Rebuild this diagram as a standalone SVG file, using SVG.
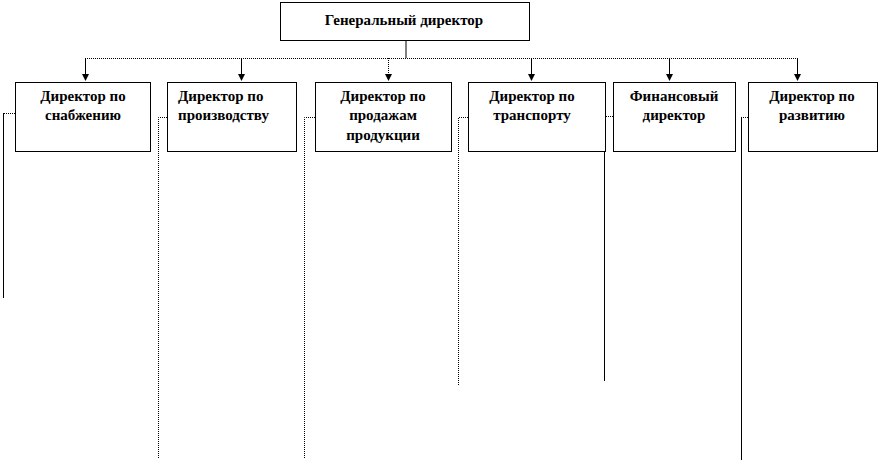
<svg xmlns="http://www.w3.org/2000/svg" width="880" height="460" viewBox="0 0 880 460">
<defs>
<marker id="ah" markerWidth="7" markerHeight="7" refX="6" refY="3.5" orient="auto" markerUnits="userSpaceOnUse">
<path d="M0,0 L7,3.5 L0,7 z" fill="#000"/>
</marker>
<style>
.box{fill:#fff;stroke:#000;stroke-width:1}
.t{font-family:"Liberation Serif","Times New Roman",serif;font-weight:bold;font-size:15px;fill:#000}
.c{text-anchor:middle}
.s{fill:none;stroke:#000;stroke-width:1}
.d{fill:none;stroke:#000;stroke-width:1;stroke-dasharray:1 1}
</style>
</defs>
<rect width="880" height="460" fill="#fff"/>
<g id="connectors">
<line class="s" x1="406" y1="41" x2="406" y2="58"/>
<line class="d" x1="85" y1="58.5" x2="797" y2="58.5"/>
<line class="s" x1="85.5" y1="58" x2="85.5" y2="80" marker-end="url(#ah)"/>
<line class="s" x1="241.5" y1="58" x2="241.5" y2="80" marker-end="url(#ah)"/>
<line class="d" x1="388.5" y1="58" x2="388.5" y2="80" marker-end="url(#ah)"/>
<line class="s" x1="531.5" y1="58" x2="531.5" y2="80" marker-end="url(#ah)"/>
<line class="s" x1="669.5" y1="58" x2="669.5" y2="80" marker-end="url(#ah)"/>
<line class="s" x1="797.5" y1="58" x2="797.5" y2="80" marker-end="url(#ah)"/>
<polyline class="d" points="15,113.5 3.5,113.5"/>
<line class="s" x1="3.5" y1="113" x2="3.5" y2="298"/>
<polyline class="d" points="167,117.5 158.5,117.5 158.5,459"/>
<polyline class="d" points="315,117.5 304.5,117.5 304.5,459"/>
<polyline class="d" points="468,117.5 458.5,117.5 458.5,385"/>
<polyline class="d" points="613,116.5 604.5,116.5"/>
<line class="s" x1="604.5" y1="116" x2="604.5" y2="381"/>
<polyline class="d" points="748,117.5 741.5,117.5"/>
<line class="s" x1="741.5" y1="117" x2="741.5" y2="460"/>
</g>
<g id="ceo">
<rect class="box" x="280.5" y="2.5" width="249" height="38"/>
<text class="t c" x="404" y="25">Генеральный директор</text>
</g>
<g id="supply">
<rect class="box" x="15.5" y="82.5" width="135" height="69"/>
<text class="t c" x="83" y="101">Директор по</text>
<text class="t c" x="83" y="120">снабжению</text>
</g>
<g id="production">
<rect class="box" x="167.5" y="82.5" width="129" height="69"/>
<text class="t" x="178" y="101">Директор по</text>
<text class="t" x="178" y="120">производству</text>
</g>
<g id="sales">
<rect class="box" x="315.5" y="82.5" width="136" height="69"/>
<text class="t c" x="383" y="101">Директор по</text>
<text class="t c" x="383" y="120">продажам</text>
<text class="t c" x="383" y="140">продукции</text>
</g>
<g id="transport">
<rect class="box" x="468.5" y="82.5" width="137" height="69"/>
<text class="t c" x="532" y="101">Директор по</text>
<text class="t c" x="532" y="120">транспорту</text>
</g>
<g id="finance">
<rect class="box" x="613.5" y="82.5" width="122" height="69"/>
<text class="t c" x="674" y="101">Финансовый</text>
<text class="t c" x="674" y="120">директор</text>
</g>
<g id="development">
<rect class="box" x="748.5" y="82.5" width="129" height="69"/>
<text class="t c" x="812" y="101">Директор по</text>
<text class="t c" x="812" y="120">развитию</text>
</g>
</svg>
